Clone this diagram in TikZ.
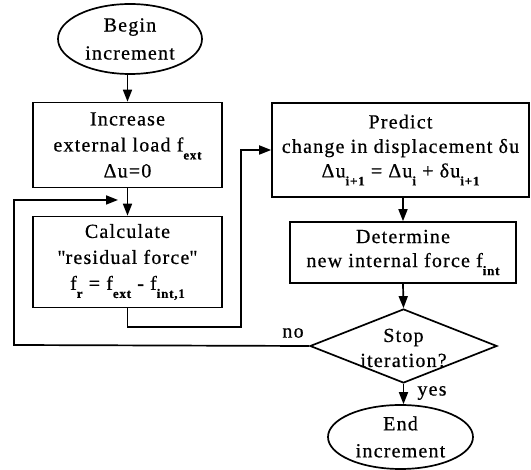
\documentclass[tikz,border=0pt]{standalone}
\usepackage{fontspec}
\setmainfont{Liberation Serif}[LetterSpace=6, FakeBold=0.6]
\usetikzlibrary{shapes.geometric,arrows.meta}

% lowered bold subscript as used in the formulas
\newcommand\subs[1]{\raisebox{-8pt}{\fontsize{13}{13}\selectfont\bfseries #1}}

\tikzset{
  every node/.style={font=\fontsize{20}{26}\selectfont},
  box/.style={draw, line width=1.7pt, rectangle, inner sep=0pt, align=center},
  term/.style={draw, line width=1.7pt, ellipse, inner sep=0pt, align=center},
  decide/.style={draw, line width=1.7pt, diamond, inner sep=0pt},
  flow/.style={line width=1.7pt, -{Triangle[length=12pt,width=9pt]}},
}

\begin{document}
\begin{tikzpicture}[x=1pt,y=-1pt]
\useasboundingbox (0,0) rectangle (531,470);

% nodes
\node[term, minimum width=144, minimum height=70, font=\fontsize{20}{28}\selectfont]
  (begin) at (130,39) {Begin\\increment};
\node[box, minimum width=189, minimum height=85] (inc) at (127.5,145)
  {Increase\\external load f\subs{ext}\\Δu=0};
\node[box, minimum width=189, minimum height=91] (calc) at (127.5,262)
  {Calculate\\\textquotedbl residual force\textquotedbl\\f\subs{r} = f\subs{ext} - f\subs{int,1}};
\node[box, minimum width=257, minimum height=94, font=\fontsize{20}{24.5}\selectfont]
  (pred) at (400.5,150)
  {Predict\\change in displacement δu\\Δu\subs{i+1} = Δu\subs{i} + δu\subs{i+1}};
\node[box, minimum width=226, minimum height=61, font=\fontsize{20}{24}\selectfont]
  (det) at (403,252.5)
  {Determine\\new internal force f\subs{int}};
\node[decide, minimum width=187, minimum height=74] (stop) at (403.5,346) {};
\node[align=center, font=\fontsize{20}{25}\selectfont] (stoptext) at (403.5,348) {Stop\\iteration?};
\node[term, minimum width=145, minimum height=64, font=\fontsize{20}{27}\selectfont]
  (end) at (400.5,437) {End\\increment};

% helper points of the routed connectors
\coordinate (loopbl) at (14,345);
\coordinate (looptl) at (14,200);
\coordinate (loopend) at (118,200);
\coordinate (exitr) at (241,327);

% connectors
\draw[flow] (begin.south -| inc.north) -- (inc.north);
\draw[flow] (inc.south) -- (calc.north);
\draw[flow] (stop.west) -- (loopbl) -- (looptl) -- (loopend);
\draw[flow] (calc.south) |- (exitr) |- (pred.west);
\draw[flow] (det.north |- pred.south) -- (det.north);
\draw[flow] (det.south) -- (stop.north);
\draw[flow] (stop.south) -- (stop.south |- end.north);

% branch labels
\node (no) at (293,333) {no};
\node (yes) at (432,393) {yes};
\end{tikzpicture}
\end{document}
